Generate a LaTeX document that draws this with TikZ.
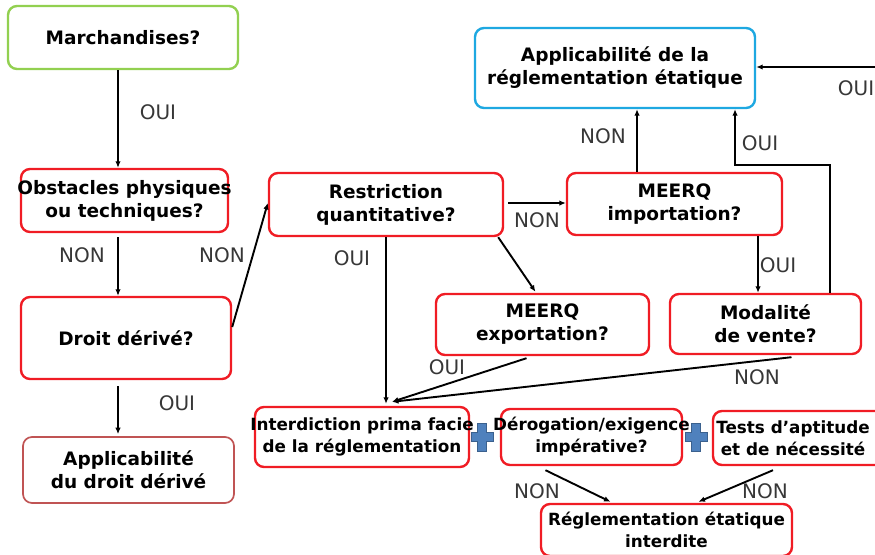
\documentclass[tikz,border=0pt]{standalone}
\usepackage{fontspec}
\setmainfont{DejaVu Sans}
\usetikzlibrary{arrows.meta,calc}
\definecolor{boxred}{RGB}{240,28,36}
\definecolor{boxgreen}{RGB}{146,208,80}
\definecolor{boxblue}{RGB}{30,168,225}
\definecolor{boxbrown}{RGB}{192,84,84}
\definecolor{lblgray}{RGB}{55,55,55}
\definecolor{plusblue}{RGB}{79,129,189}
\begin{document}
\begin{tikzpicture}[x=1pt,y=-1pt,
  box/.style={draw=boxred,line width=2.4pt,rounded corners=9pt,align=center,inner sep=0pt,fill=white,
    font=\fontsize{18.5}{23}\selectfont\bfseries},
  smallbox/.style={box,font=\fontsize{16.8}{22}\selectfont\bfseries},
  lbl/.style={font=\fontsize{20}{24}\selectfont,text=lblgray,inner sep=0pt},
  arr/.style={draw=black,line width=1.9pt,-{Latex[length=6.5pt,width=5.5pt]}},
  plussign/.style={fill=plusblue,draw=plusblue!75!black,line width=0.6pt}]
\useasboundingbox (0,0) rectangle (875,554);

% nodes
\node[box,draw=boxgreen,minimum width=230pt,minimum height=63pt] (march) at (123,37.5) {Marchandises?};
\node[box,minimum width=207pt,minimum height=63pt] (obst) at (124.5,200.5) {\makebox[200pt]{Obstacles physiques}\\ou techniques?};
\node[box,minimum width=210pt,minimum height=82pt] (droit) at (126,338) {Droit dérivé?};
\node[box,draw=boxbrown,line width=1.7pt,minimum width=211pt,minimum height=66pt] (appdd) at (128.5,470) {Applicabilité\\du droit dérivé};
\node[box,minimum width=234pt,minimum height=63pt] (restr) at (386,204.5) {Restriction\\quantitative?};
\node[box,draw=boxblue,minimum width=280pt,minimum height=80pt] (appre) at (615,68) {Applicabilité de la\\réglementation étatique};
\node[box,minimum width=215pt,minimum height=62pt] (mimp) at (674.5,204) {MEERQ\\importation?};
\node[box,minimum width=213pt,minimum height=61pt] (mexp) at (542.5,324.5) {MEERQ\\exportation?};
\node[box,minimum width=191pt,minimum height=60pt] (modal) at (765.5,324) {Modalité\\de vente?};
\node[smallbox,minimum width=214pt,minimum height=60pt] (interd) at (362,437) {\makebox[205pt]{Interdiction prima facie}\\de la réglementation};
\node[smallbox,minimum width=181pt,minimum height=56pt] (derog) at (591.5,437) {\makebox[170pt]{Dérogation/exigence}\\impérative?};
\node[smallbox,minimum width=172pt,minimum height=54pt] (tests) at (799,438) {\hspace*{-12pt}Tests d’aptitude\\\hspace*{-12pt}et de nécessité};
\node[smallbox,minimum width=251pt,minimum height=52pt] (regl) at (666.5,530) {Réglementation étatique\\interdite};

% helper coordinates
\coordinate (x118) at (118,0);
\coordinate (x637) at (637,0);
\coordinate (x758) at (758,0);
\coordinate (x735) at (735,0);
\coordinate (knee) at (830,165);
\coordinate (redge) at (880,67);

% connectors
\draw[arr] (march.south -| x118) -- (obst.north -| x118);
\draw[arr] ([yshift=-4pt]obst.south -| x118) -- (droit.north -| x118);
\draw[arr] ([yshift=11pt]droit.east) -- ([yshift=1.5pt]restr.west);
\draw[arr] ([yshift=-6pt]droit.south -| x118) -- ([yshift=2pt]appdd.north -| x118);
\draw[arr] ([xshift=4pt,yshift=1.5pt]restr.east) -- ([yshift=1pt]mimp.west);
\draw[arr] ([xshift=-6pt]restr.south east) -- ([xshift=-7pt,yshift=1pt]mexp.north);
\draw[arr] (restr.south) -- ([yshift=2pt]restr.south |- interd.north);
\draw[arr] (mimp.north -| x637) -- (appre.south -| x637);
\draw[arr] (mimp.south -| x758) -- (modal.north -| x758);
\draw[arr] (modal.north -| knee) -- (knee) -| (appre.south -| x735);
\draw[arr] (redge) -- ([yshift=1pt]appre.east);
\draw[arr] ([xshift=-16pt,yshift=-2pt]mexp.south) -- ([xshift=30pt,yshift=4pt]interd.north);
\draw[arr] ([xshift=26pt,yshift=-2pt]modal.south) -- ([xshift=30pt,yshift=4pt]interd.north);
\draw[arr] ([xshift=-46pt,yshift=-4pt]derog.south) -- ([xshift=-56pt,yshift=1pt]regl.north);
\draw[arr] ([xshift=-26pt,yshift=-4pt]tests.south) -- ([xshift=32pt,yshift=1pt]regl.north);

% labels
\node[lbl] (l1) at (158,112) {OUI};
\node[lbl] (l2) at (82,255) {NON};
\node[lbl] (l3) at (222,255) {NON};
\node[lbl] (l4) at (352,258) {OUI};
\node[lbl] (l5) at (177,403) {OUI};
\node[lbl] (l6) at (537,220) {NON};
\node[lbl] (l7) at (603,136) {NON};
\node[lbl] (l8) at (760,143) {OUI};
\node[lbl] (l9) at (778,265) {OUI};
\node[lbl] (l10) at (856,88) {OUI};
\node[lbl] (l11) at (447,367) {OUI};
\node[lbl] (l12) at (757,377) {NON};
\node[lbl] (l13) at (537,491) {NON};
\node[lbl] (l14) at (765,491) {NON};

% plus signs
\foreach \cx in {482,696} {
  \filldraw[plussign] ({\cx-4.5},423) -- ({\cx+4.5},423) -- ({\cx+4.5},432.5) -- ({\cx+11},432.5)
    -- ({\cx+11},441.5) -- ({\cx+4.5},441.5) -- ({\cx+4.5},451) -- ({\cx-4.5},451)
    -- ({\cx-4.5},441.5) -- ({\cx-11},441.5) -- ({\cx-11},432.5) -- ({\cx-4.5},432.5) -- cycle;
}
\end{tikzpicture}
\end{document}
